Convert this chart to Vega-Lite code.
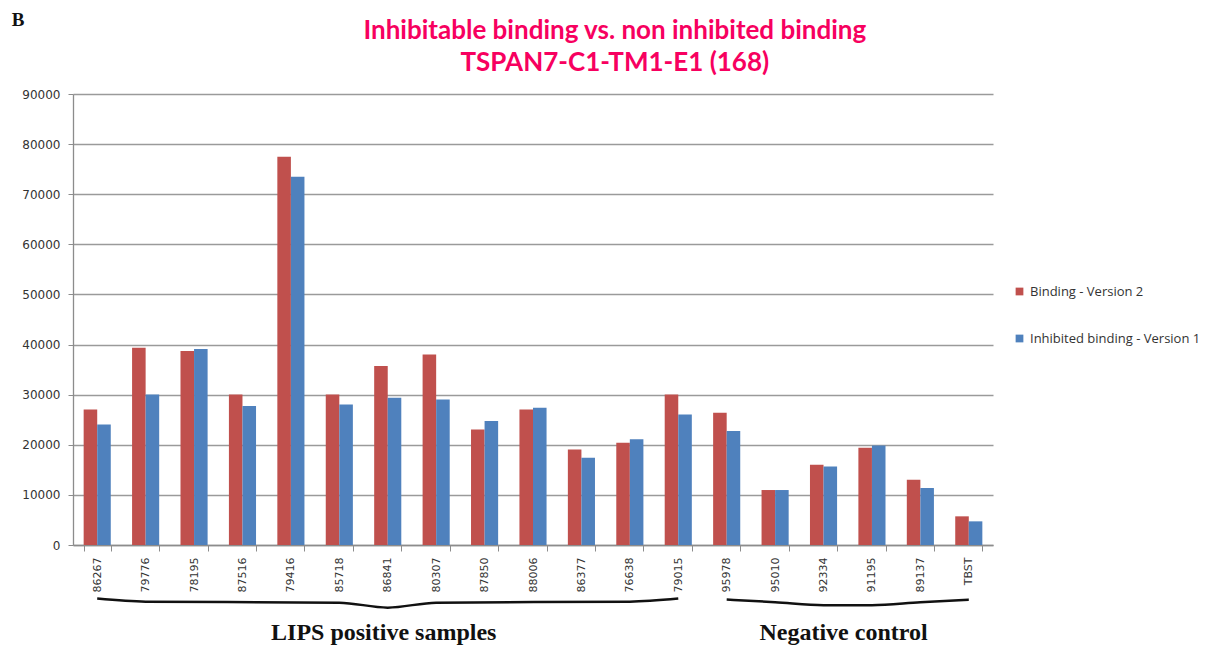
{
  "$schema": "https://vega.github.io/schema/vega-lite/v6.json",
  "width": 920,
  "height": 451,
  "autosize": {"type": "none"},
  "padding": {"left": 73, "top": 94, "right": 223, "bottom": 106},
  "background": "white",
  "datasets": {
    "bars": [
      {"sample": "86267", "series": "Binding - Version 2", "value": 27060},
      {"sample": "86267", "series": "Inhibited binding - Version 1", "value": 24070},
      {"sample": "79776", "series": "Binding - Version 2", "value": 39360},
      {"sample": "79776", "series": "Inhibited binding - Version 1", "value": 30050},
      {"sample": "78195", "series": "Binding - Version 2", "value": 38700},
      {"sample": "78195", "series": "Inhibited binding - Version 1", "value": 39100},
      {"sample": "87516", "series": "Binding - Version 2", "value": 30050},
      {"sample": "87516", "series": "Inhibited binding - Version 1", "value": 27730},
      {"sample": "79416", "series": "Binding - Version 2", "value": 77460},
      {"sample": "79416", "series": "Inhibited binding - Version 1", "value": 73470},
      {"sample": "85718", "series": "Binding - Version 2", "value": 30050},
      {"sample": "85718", "series": "Inhibited binding - Version 1", "value": 28060},
      {"sample": "86841", "series": "Binding - Version 2", "value": 35700},
      {"sample": "86841", "series": "Inhibited binding - Version 1", "value": 29390},
      {"sample": "80307", "series": "Binding - Version 2", "value": 38030},
      {"sample": "80307", "series": "Inhibited binding - Version 1", "value": 29060},
      {"sample": "87850", "series": "Binding - Version 2", "value": 23070},
      {"sample": "87850", "series": "Inhibited binding - Version 1", "value": 24730},
      {"sample": "88006", "series": "Binding - Version 2", "value": 27060},
      {"sample": "88006", "series": "Inhibited binding - Version 1", "value": 27390},
      {"sample": "86377", "series": "Binding - Version 2", "value": 19080},
      {"sample": "86377", "series": "Inhibited binding - Version 1", "value": 17420},
      {"sample": "76638", "series": "Binding - Version 2", "value": 20410},
      {"sample": "76638", "series": "Inhibited binding - Version 1", "value": 21080},
      {"sample": "79015", "series": "Binding - Version 2", "value": 30050},
      {"sample": "79015", "series": "Inhibited binding - Version 1", "value": 26060},
      {"sample": "95978", "series": "Binding - Version 2", "value": 26400},
      {"sample": "95978", "series": "Inhibited binding - Version 1", "value": 22740},
      {"sample": "95010", "series": "Binding - Version 2", "value": 10970},
      {"sample": "95010", "series": "Inhibited binding - Version 1", "value": 10970},
      {"sample": "92334", "series": "Binding - Version 2", "value": 16020},
      {"sample": "92334", "series": "Inhibited binding - Version 1", "value": 15690},
      {"sample": "91195", "series": "Binding - Version 2", "value": 19410},
      {"sample": "91195", "series": "Inhibited binding - Version 1", "value": 19880},
      {"sample": "89137", "series": "Binding - Version 2", "value": 13030},
      {"sample": "89137", "series": "Inhibited binding - Version 1", "value": 11370},
      {"sample": "TBST", "series": "Binding - Version 2", "value": 5720},
      {"sample": "TBST", "series": "Inhibited binding - Version 1", "value": 4720}
    ],
    "braces": [
      {"group": "LIPS", "ord": 1, "sample": "86267", "value": -10700},
      {"group": "LIPS", "ord": 2, "sample": "79776", "value": -11300},
      {"group": "LIPS", "ord": 3, "sample": "85718", "value": -11500},
      {"group": "LIPS", "ord": 4, "sample": "86841", "value": -12500},
      {"group": "LIPS", "ord": 5, "sample": "80307", "value": -11500},
      {"group": "LIPS", "ord": 6, "sample": "76638", "value": -11300},
      {"group": "LIPS", "ord": 7, "sample": "79015", "value": -10700},
      {"group": "Neg", "ord": 1, "sample": "95978", "value": -10900},
      {"group": "Neg", "ord": 2, "sample": "95010", "value": -11400},
      {"group": "Neg", "ord": 3, "sample": "92334", "value": -12000},
      {"group": "Neg", "ord": 4, "sample": "91195", "value": -12000},
      {"group": "Neg", "ord": 5, "sample": "89137", "value": -11400},
      {"group": "Neg", "ord": 6, "sample": "TBST", "value": -10900}
    ],
    "titles": [
      {"label": "Inhibitable binding vs. non inhibited binding", "sample": "76638", "value": 102600},
      {"label": "TSPAN7-C1-TM1-E1 (168)", "sample": "76638", "value": 96200}
    ]
  },
  "layer": [
    {
      "data": {"name": "bars"},
      "mark": {"type": "bar"},
      "encoding": {
        "x": {
          "field": "sample",
          "type": "nominal",
          "sort": null,
          "scale": {"paddingInner": 0.44, "paddingOuter": 0.22},
          "axis": {
            "title": null,
            "labelAngle": -90,
            "labelFont": "DejaVu Sans",
            "labelFontSize": 11,
            "labelColor": "#333333",
            "labelPadding": 6,
            "tickSize": 6,
            "tickBand": "extent",
            "tickColor": "#8c8c8c",
            "domainColor": "#8c8c8c",
            "domainWidth": 1.3,
            "grid": false
          }
        },
        "xOffset": {
          "field": "series",
          "type": "nominal",
          "sort": ["Binding - Version 2", "Inhibited binding - Version 1"],
          "scale": {"paddingInner": 0, "paddingOuter": 0}
        },
        "y": {
          "field": "value",
          "type": "quantitative",
          "scale": {"domain": [0, 90000], "nice": false},
          "axis": {
            "title": null,
            "values": [0, 10000, 20000, 30000, 40000, 50000, 60000, 70000, 80000, 90000],
            "format": "d",
            "labelFont": "DejaVu Sans",
            "labelFontSize": 12,
            "labelColor": "#333333",
            "labelPadding": 8,
            "tickSize": 5,
            "tickColor": "#8c8c8c",
            "domainColor": "#8c8c8c",
            "domainWidth": 1.3,
            "grid": true,
            "gridColor": "#9a9a9a",
            "gridWidth": 1.3
          }
        },
        "color": {
          "field": "series",
          "type": "nominal",
          "sort": ["Binding - Version 2", "Inhibited binding - Version 1"],
          "scale": {"domain": ["Binding - Version 2", "Inhibited binding - Version 1"], "range": ["#c0504d", "#4f81bd"]},
          "legend": {
            "title": null,
            "orient": "none",
            "legendX": 940,
            "legendY": 191,
            "symbolType": "square",
            "symbolSize": 60,
            "symbolStrokeWidth": 0,
            "labelFont": "Open Sans",
            "labelFontSize": 13,
            "labelColor": "#333333",
            "labelLimit": 400,
            "rowPadding": 33
          }
        }
      }
    },
    {
      "data": {"name": "braces"},
      "mark": {"type": "line", "color": "#111111", "strokeWidth": 2.5, "interpolate": "monotone"},
      "encoding": {
        "x": {"field": "sample", "type": "nominal", "sort": null},
        "y": {"field": "value", "type": "quantitative"},
        "detail": {"field": "group"},
        "order": {"field": "ord"}
      }
    },
    {
      "data": {"name": "titles"},
      "mark": {"type": "text", "font": "Lato", "fontWeight": "bold", "fontSize": 26, "color": "#f7005f", "dx": -15, "baseline": "middle", "align": "center"},
      "encoding": {
        "x": {"field": "sample", "type": "nominal", "sort": null},
        "y": {"field": "value", "type": "quantitative"},
        "text": {"field": "label"}
      }
    },
    {
      "data": {"values": [{"label": "LIPS positive samples", "sample": "86841", "value": -17600}]},
      "mark": {"type": "text", "font": "Liberation Serif", "fontWeight": "bold", "fontSize": 24, "color": "#111111", "dx": -4, "baseline": "middle"},
      "encoding": {
        "x": {"field": "sample", "type": "nominal", "sort": null},
        "y": {"field": "value", "type": "quantitative"},
        "text": {"field": "label"}
      }
    },
    {
      "data": {"values": [{"label": "Negative control", "sample": "92334", "value": -17600}]},
      "mark": {"type": "text", "font": "Liberation Serif", "fontWeight": "bold", "fontSize": 24, "color": "#111111", "dx": 20, "baseline": "middle"},
      "encoding": {
        "x": {"field": "sample", "type": "nominal", "sort": null},
        "y": {"field": "value", "type": "quantitative"},
        "text": {"field": "label"}
      }
    },
    {
      "data": {"values": [{"label": "B", "sample": "86267", "value": 104800}]},
      "mark": {"type": "text", "font": "Liberation Serif", "fontWeight": "bold", "fontSize": 19, "color": "#111111", "dx": -79, "baseline": "middle"},
      "encoding": {
        "x": {"field": "sample", "type": "nominal", "sort": null},
        "y": {"field": "value", "type": "quantitative"},
        "text": {"field": "label"}
      }
    }
  ],
  "config": {"view": {"stroke": null}}
}
